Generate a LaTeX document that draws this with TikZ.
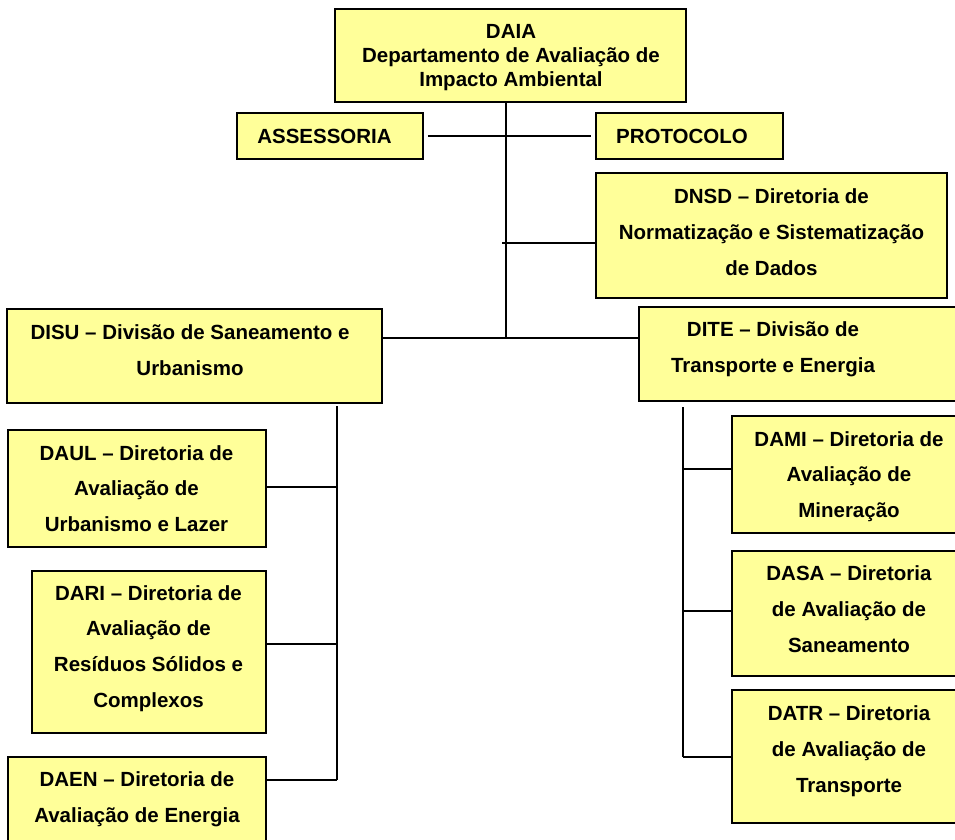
\documentclass[tikz,border=0pt]{standalone}
\usepackage{fontspec}
\setmainfont{Liberation Sans}
\usetikzlibrary{fit}
\definecolor{boxfill}{HTML}{FFFF99}
\tikzset{
  orgbox/.style={draw=black, fill=boxfill, line width=1.8pt, inner sep=0pt, rectangle},
  orgtext/.style={align=center, inner sep=0pt, font=\fontsize{20.5pt}{35.7pt}\selectfont\bfseries},
  toptext/.style={align=center, inner sep=0pt, font=\fontsize{20.5pt}{24pt}\selectfont\bfseries},
  link/.style={draw=black, line width=1.8pt}
}
\begin{document}
\begin{tikzpicture}[x=1pt,y=-1pt]
\useasboundingbox (0,0) rectangle (955,839);
\clip (0,0) rectangle (955,839);
% boxes
\node[orgbox, fit={(335,9) (686,102)}] (daia) {};
\node[orgbox, fit={(237,113) (423,159)}] (asse) {};
\node[orgbox, fit={(596,113) (783,159)}] (prot) {};
\node[orgbox, fit={(596,173) (947,298)}] (dnsd) {};
\node[orgbox, fit={(7,309) (382,403)}] (disu) {};
\node[orgbox, fit={(639,307) (975,401)}] (dite) {};
\node[orgbox, fit={(8,430) (266,547)}] (daul) {};
\node[orgbox, fit={(32,571) (266,733)}] (dari) {};
\node[orgbox, fit={(8,757) (266,870)}] (daen) {};
\node[orgbox, fit={(732,416) (975,533)}] (dami) {};
\node[orgbox, fit={(732,551) (975,676)}] (dasa) {};
\node[orgbox, fit={(732,690) (975,823)}] (datr) {};
% texts
\node[toptext] (daiat) at (511,58) {DAIA\\Departamento de Avaliação de\\Impacto Ambiental};
\node[orgtext] (asset) at (324.5,136) {ASSESSORIA};
\node[orgtext] (prott) at (682,136) {PROTOCOLO};
\node[orgtext] (dnsdt) at (771.5,232) {DNSD – Diretoria de\\Normatização e Sistematização\\de Dados};
\node[orgtext] (disut) at (190,350.5) {DISU – Divisão de Saneamento e\\Urbanismo};
\node[orgtext] (ditet) at (773,349.5) {DITE – Divisão de\\Transporte e Energia};
\node[orgtext] (dault) at (136.5,488.5) {DAUL – Diretoria de\\Avaliação de\\Urbanismo e Lazer};
\node[orgtext] (darit) at (148.5,648.5) {DARI – Diretoria de\\Avaliação de\\Resíduos Sólidos e\\Complexos};
\node[orgtext] (daent) at (137,799.5) {DAEN – Diretoria de\\Avaliação de Energia};
\node[orgtext] (damit) at (849,476.5) {DAMI – Diretoria de\\Avaliação de\\Mineração};
\node[orgtext] (dasat) at (849,609) {DASA – Diretoria\\de Avaliação de\\Saneamento};
\node[orgtext] (datrt) at (849,751) {DATR – Diretoria\\de Avaliação de\\Transporte};
% junction coordinates
\coordinate (hub) at (506,338);
\coordinate (dnsdj) at (502,243);
\coordinate (ltop) at (337,406);
\coordinate (lbot) at (337,780);
\coordinate (rtop) at (683,407);
\coordinate (rbot) at (683,757);
% connectors
\draw[link] (daia.south -| hub) -- (hub);
\draw[link, shorten <=4pt, shorten >=4pt] (asse.east) -- (asse.east -| prot.west);
\draw[link] (dnsdj) -- (dnsdj -| dnsd.west);
\draw[link] (hub -| disu.east) -- (hub -| dite.west);
\draw[link] (ltop) -- (lbot);
\draw[link] (lbot) -- (lbot -| daen.east);
\draw[link] (337,487) coordinate (lj1) -- (lj1 -| daul.east);
\draw[link] (337,644) coordinate (lj2) -- (lj2 -| dari.east);
\draw[link] (rtop) -- (rbot);
\draw[link] (rbot) -- (rbot -| datr.west);
\draw[link] (683,469) coordinate (rj1) -- (rj1 -| dami.west);
\draw[link] (683,611) coordinate (rj2) -- (rj2 -| dasa.west);
\end{tikzpicture}
\end{document}
